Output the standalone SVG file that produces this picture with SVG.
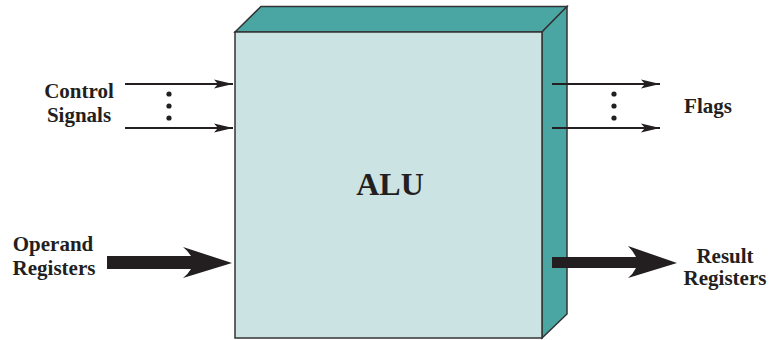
<svg xmlns="http://www.w3.org/2000/svg" width="771" height="340" viewBox="0 0 771 340">
<defs>
<style>
.lbl{font-family:"Liberation Serif","Times New Roman",serif;font-weight:bold;font-size:21px;fill:#231f20;text-anchor:middle}
.alu{font-family:"Liberation Serif","Times New Roman",serif;font-weight:bold;font-size:32px;fill:#231f20;text-anchor:middle}
.face{stroke:#333;stroke-width:1.5;stroke-linejoin:miter}
.thin{stroke:#231f20;stroke-width:2.2;fill:none}
.head{fill:#231f20}
.dot{fill:#231f20}
</style>
<marker id="ah" viewBox="0 0 20 10" refX="19" refY="5" markerWidth="20" markerHeight="10" markerUnits="userSpaceOnUse" orient="auto">
<path d="M0,0.5 L19,5 L0,9.5 L4,5 Z" fill="#231f20"/>
</marker>
</defs>
<rect width="771" height="340" fill="#ffffff"/>
<g id="alu">
<polygon class="face" points="235,32 261,6.5 567,6.5 542,32" fill="#4aa6a3"/>
<polygon class="face" points="542,32 567,6.5 567,314 542,338" fill="#4aa6a3"/>
<rect class="face" x="235" y="32" width="307" height="306" fill="#cce3e3"/>
<text class="alu" x="390" y="195">ALU</text>
</g>
<g id="control-signals">
<text class="lbl" x="79" y="98">Control</text>
<text class="lbl" x="79" y="122">Signals</text>
</g>
<g id="flags">
<text class="lbl" x="708" y="113">Flags</text>
</g>
<g id="operand-registers">
<text class="lbl" x="53" y="251">Operand</text>
<text class="lbl" x="54" y="275">Registers</text>
</g>
<g id="result-registers">
<text class="lbl" x="725" y="263">Result</text>
<text class="lbl" x="725" y="285">Registers</text>
</g>
<g id="connectors">
<line class="thin" x1="125" y1="84" x2="233" y2="84" marker-end="url(#ah)"/>
<line class="thin" x1="125" y1="128" x2="233" y2="128" marker-end="url(#ah)"/>
<line class="thin" x1="552" y1="84" x2="660" y2="84" marker-end="url(#ah)"/>
<line class="thin" x1="552" y1="128" x2="660" y2="128" marker-end="url(#ah)"/>
<circle class="dot" cx="169" cy="94" r="2.6"/>
<circle class="dot" cx="169" cy="106" r="2.6"/>
<circle class="dot" cx="169" cy="118" r="2.6"/>
<circle class="dot" cx="614" cy="94" r="2.6"/>
<circle class="dot" cx="614" cy="106" r="2.6"/>
<circle class="dot" cx="614" cy="118" r="2.6"/>
<path class="head" d="M107,256 L191,256 Q188,251 183,247 L232,263 L183,278 Q188,274 191,269 L107,269 Z"/>
<path class="head" d="M552,257 L636,257 Q633,251 628,246 L677,263 L628,278 Q633,274 636,268 L552,268 Z"/>
</g>
</svg>
